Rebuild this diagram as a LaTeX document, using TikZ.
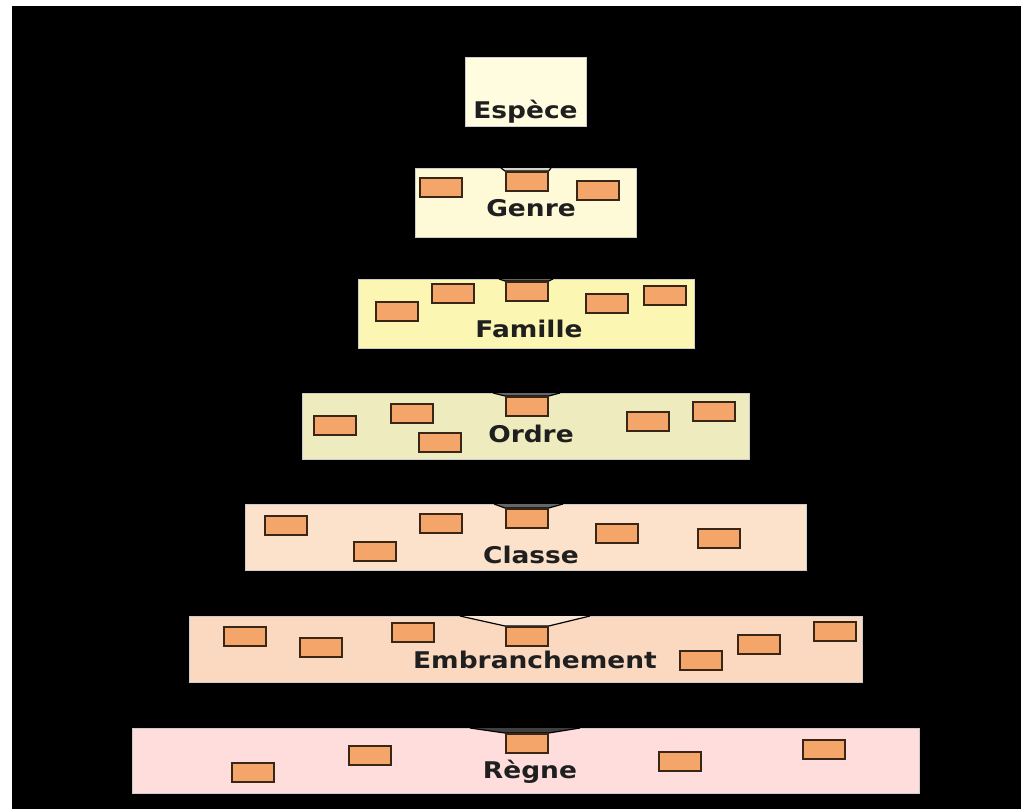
\documentclass[tikz,border=0pt]{standalone}
\usepackage{fontspec}
\newfontfamily\lab{DejaVu Sans}[FakeStretch=1.15]
\definecolor{cE}{HTML}{FFFCE0}
\definecolor{cG}{HTML}{FEFAD8}
\definecolor{cF}{HTML}{FBF6B2}
\definecolor{cO}{HTML}{EEECBE}
\definecolor{cC}{HTML}{FCE2CA}
\definecolor{cEm}{HTML}{FBD8C0}
\definecolor{cR}{HTML}{FEDDDC}
\definecolor{chip}{HTML}{F4A66A}
\definecolor{chipline}{HTML}{3A2616}
\tikzset{
  lvl/.style={rectangle, anchor=north west, inner sep=0pt, draw=white!80!black, line width=0.6pt},
  chipbox/.style={rectangle, anchor=north west, inner sep=0pt, minimum width=42, minimum height=19, fill=chip, draw=chipline, line width=1.7pt},
  lbl/.style={anchor=base, inner sep=0pt, font=\lab\bfseries\fontsize{23}{23}\selectfont, text=black!88},
  funnel/.style={fill=black!60, draw=black, line width=1.2pt, line join=round},
}
\begin{document}
\begin{tikzpicture}[x=1pt,y=-1pt]
\useasboundingbox (0,0) rectangle (1021,809);
\fill[white] (0,0) rectangle (1021,809);
\fill[black] (12,6) rectangle (1021,809);

% level boxes
\node[lvl, fill=cE, minimum width=121, minimum height=69] (E) at (465,57) {};
\node[lvl, fill=cG, minimum width=221, minimum height=69] (G) at (415,168) {};
\node[lvl, fill=cF, minimum width=336, minimum height=69] (F) at (358,279) {};
\node[lvl, fill=cO, minimum width=447, minimum height=66] (O) at (302,393) {};
\node[lvl, fill=cC, minimum width=561, minimum height=66] (C) at (245,504) {};
\node[lvl, fill=cEm, minimum width=673, minimum height=66] (Em) at (189,616) {};
\node[lvl, fill=cR, minimum width=787, minimum height=65] (R) at (132,728) {};

% labels
\node[lbl] (tE) at (525.5,118) {Espèce};
\node[lbl] (tG) at (531,216) {Genre};
\node[lbl] (tF) at (529,337) {Famille};
\node[lbl] (tO) at (531,442) {Ordre};
\node[lbl] (tC) at (531,563) {Classe};
\node[lbl] (tEm) at (535,668) {Embranchement};
\node[lbl] (tR) at (530,778) {Règne};

% funnels and middle chips
\coordinate (gL) at (501,168); \coordinate (gR) at (551,168);
\node[chipbox] (mG) at (505,171) {};
\draw[funnel, fill=cG!60!black!40] (gL) -- (mG.north west) -- (mG.north east) -- (gR);
\coordinate (fL) at (499,279); \coordinate (fR) at (553,279);
\node[chipbox] (mF) at (505,281) {};
\draw[funnel] (fL) -- (mF.north west) -- (mF.north east) -- (fR);
\coordinate (oL) at (493,393); \coordinate (oR) at (560,393);
\node[chipbox] (mO) at (505,396) {};
\draw[funnel] (oL) -- (mO.north west) -- (mO.north east) -- (oR);
\coordinate (cL) at (494,504); \coordinate (cR) at (563,504);
\node[chipbox] (mC) at (505,508) {};
\draw[funnel] (cL) -- (mC.north west) -- (mC.north east) -- (cR);
\coordinate (eL) at (460,616); \coordinate (eR) at (590,616);
\node[chipbox] (mEm) at (505,626) {};
\draw[funnel, fill=white!35!cEm] (eL) -- (mEm.north west) -- (mEm.north east) -- (eR);
\coordinate (rL) at (470,728); \coordinate (rR) at (580,728);
\node[chipbox] (mR) at (505,733) {};
\draw[funnel, fill=black!75] (rL) -- (mR.north west) -- (mR.north east) -- (rR);
\foreach \n in {mG,mF,mO,mC,mEm,mR}{\node[chipbox] at (\n.north west) {};}

% Genre chips
\node[chipbox] (g1) at (419,177) {};
\node[chipbox] (g3) at (576,180) {};
% Famille chips
\node[chipbox] (f1) at (375,301) {};
\node[chipbox] (f2) at (431,283) {};
\node[chipbox] (f4) at (585,293) {};
\node[chipbox] (f5) at (643,285) {};
% Ordre chips
\node[chipbox] (o1) at (313,415) {};
\node[chipbox] (o2) at (390,403) {};
\node[chipbox] (o3) at (418,432) {};
\node[chipbox] (o5) at (626,411) {};
\node[chipbox] (o6) at (692,401) {};
% Classe chips
\node[chipbox] (c1) at (264,515) {};
\node[chipbox] (c2) at (353,541) {};
\node[chipbox] (c3) at (419,513) {};
\node[chipbox] (c5) at (595,523) {};
\node[chipbox] (c6) at (697,528) {};
% Embranchement chips
\node[chipbox] (e1) at (223,626) {};
\node[chipbox] (e2) at (299,637) {};
\node[chipbox] (e3) at (391,622) {};
\node[chipbox] (e5) at (679,650) {};
\node[chipbox] (e6) at (737,634) {};
\node[chipbox] (e7) at (813,621) {};
% Regne chips
\node[chipbox] (r1) at (231,762) {};
\node[chipbox] (r2) at (348,745) {};
\node[chipbox] (r4) at (658,751) {};
\node[chipbox] (r5) at (802,739) {};
\end{tikzpicture}
\end{document}
